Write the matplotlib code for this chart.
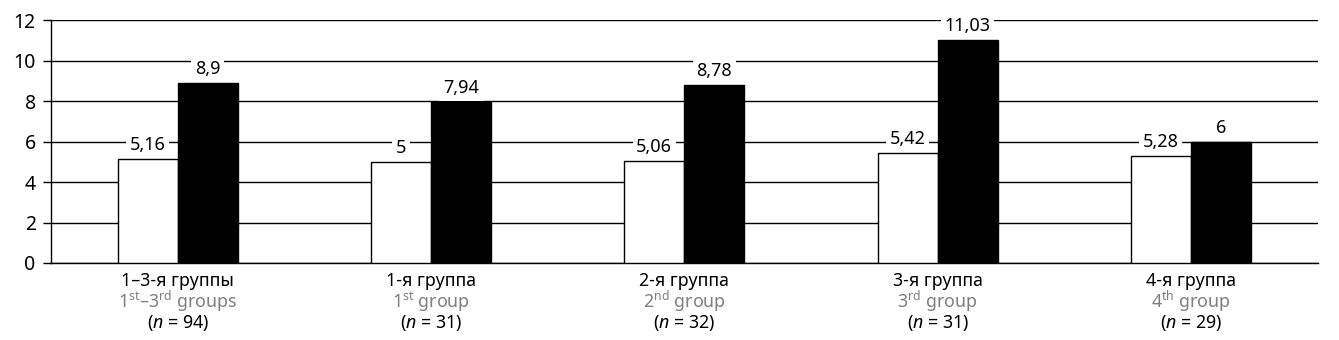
import numpy as np
import matplotlib.pyplot as plt

plt.rcParams["font.family"] = ["Noto Sans", "DejaVu Sans"]
plt.rcParams["mathtext.fontset"] = "custom"
plt.rcParams["mathtext.rm"] = "Noto Sans"
plt.rcParams["mathtext.it"] = "Noto Sans:italic"

groups_ru = ["1–3-я группы", "1-я группа", "2-я группа", "3-я группа", "4-я группа"]
groups_en = [r"1$^{\mathrm{st}}$–3$^{\mathrm{rd}}$ groups", r"1$^{\mathrm{st}}$ group",
             r"2$^{\mathrm{nd}}$ group", r"3$^{\mathrm{rd}}$ group", r"4$^{\mathrm{th}}$ group"]
n_values = [94, 31, 32, 31, 29]
white_vals = [5.16, 5, 5.06, 5.42, 5.28]
black_vals = [8.9, 7.94, 8.78, 11.03, 6]

fig = plt.figure(figsize=(13.39, 3.4), dpi=100)
ax = fig.add_axes([0.0381, 0.2265, 0.9459, 0.7145])

x = np.arange(len(groups_ru))
w = 0.237
b1 = ax.bar(x - w / 2, white_vals, w, color="white", edgecolor="black", linewidth=1, zorder=3)
b2 = ax.bar(x + w / 2, black_vals, w, color="black", edgecolor="black", linewidth=1, zorder=3)

def fmt(v):
    return f"{v:g}".replace(".", ",")

for bars, vals in [(b1, white_vals), (b2, black_vals)]:
    for rect, v in zip(bars, vals):
        ax.annotate(fmt(v), xy=(rect.get_x() + rect.get_width() / 2, v),
                    xytext=(0, 3.5), textcoords="offset points", ha="center", va="bottom",
                    fontsize=13, zorder=4,
                    bbox=dict(boxstyle="square,pad=0.2", fc="white", ec="none"))

ax.set_xlim(-0.5, len(groups_ru) - 0.5)
ax.set_ylim(0, 12)
ax.set_yticks(range(0, 13, 2))
ax.tick_params(axis="y", labelsize=14, length=6, width=1, pad=5)
ax.set_xticks([])
ax.yaxis.grid(True, color="black", linewidth=1, zorder=0)
ax.set_axisbelow(True)
for s in ["top", "right"]:
    ax.spines[s].set_visible(False)
ax.spines["left"].set_linewidth(1)
ax.spines["bottom"].set_linewidth(1)

for i in range(len(groups_ru)):
    ax.annotate(groups_ru[i], xy=(x[i], 0), xycoords=("data", "axes fraction"),
                xytext=(0, -16.5), textcoords="offset points", ha="center", va="baseline",
                fontsize=12.8, color="black")
    ax.annotate(groups_en[i], xy=(x[i], 0), xycoords=("data", "axes fraction"),
                xytext=(0, -32.5), textcoords="offset points", ha="center", va="baseline",
                fontsize=12.8, color="#7f7f7f")
    ax.annotate(rf"($\mathit{{n}}$ = {n_values[i]})", xy=(x[i], 0), xycoords=("data", "axes fraction"),
                xytext=(0, -47), textcoords="offset points", ha="center", va="baseline",
                fontsize=12.8, color="black")

plt.savefig("out.png", dpi=100)
